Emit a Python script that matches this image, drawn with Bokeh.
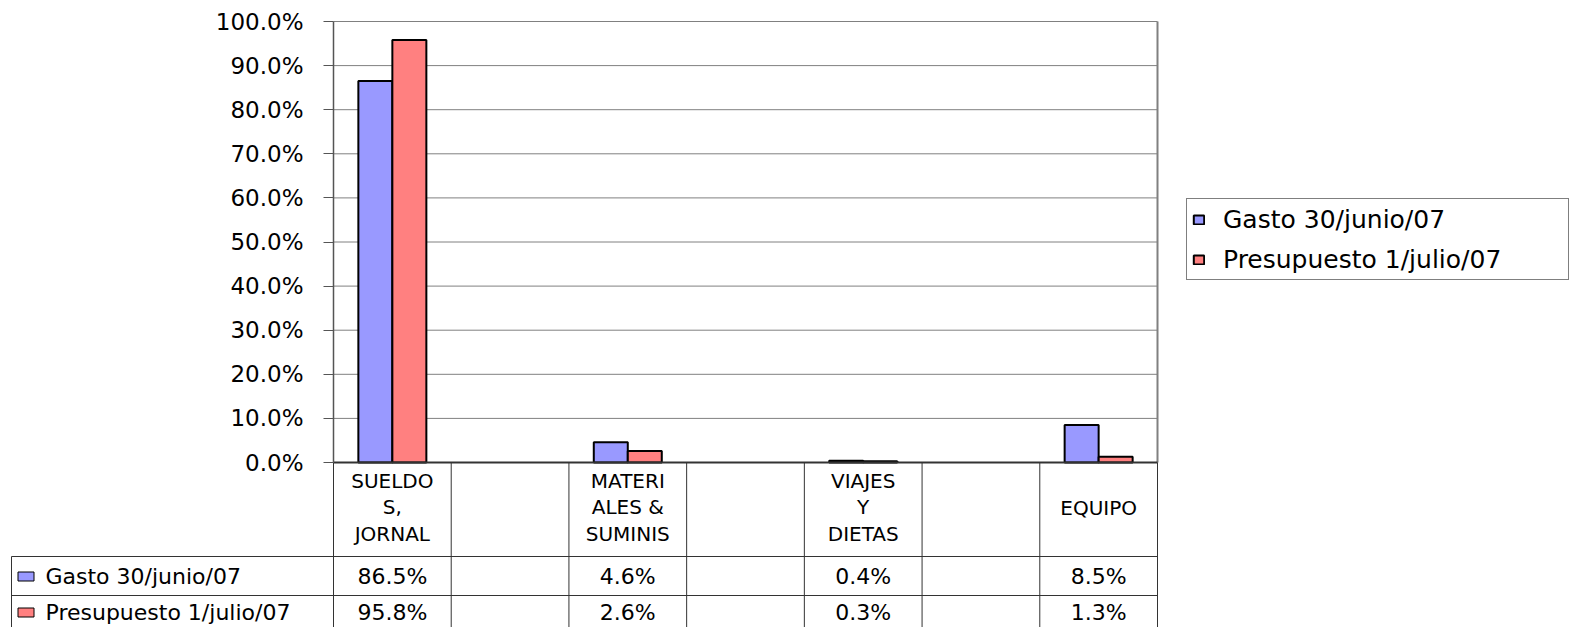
from bokeh.plotting import figure
from bokeh.models import (Range1d, FixedTicker, PrintfTickFormatter, Legend, LegendItem,
                          ColumnDataSource, LinearAxis)
from bokeh.embed import file_html
from bokeh.resources import INLINE
from bokeh.core.properties import value

# ---------------- data ----------------
categories = ["SUELDOS, JORNAL", "MATERIALES & SUMINIS", "VIAJES Y DIETAS", "EQUIPO"]
category_labels = ["SUELDO\nS,\nJORNAL", "MATERI\nALES &\nSUMINIS", "VIAJES\nY\nDIETAS", "EQUIPO"]
series_names = ["Gasto 30/junio/07", "Presupuesto 1/julio/07"]
gasto = [86.5, 4.6, 0.4, 8.5]
presupuesto = [95.8, 2.6, 0.3, 1.3]
y_ticks = [0, 10, 20, 30, 40, 50, 60, 70, 80, 90, 100]

# ---------------- style / layout ----------------
FONT = "DejaVu Sans"
BLUE = "#9999FF"
RED = "#FF8080"
GRID = "#808080"
TLINE = "#333333"
N_SLOTS = 7                      # categories with empty slots between them
FRAME_L, FRAME_R = 333, 1157     # plot-area edges (px)
TOP_PX, BASE_PX = 21, 462        # 100% and 0% (px)
COL_W = (FRAME_R - FRAME_L) / N_SLOTS
PX_PER_UNIT = (BASE_PX - TOP_PX) / 100.0
BAR_W = 34 / COL_W
W, H = 1579, 627


def xs(px):
    """canvas x pixel -> slot units"""
    return (px - FRAME_L) / COL_W


def ty(px):
    """canvas y pixel -> value units"""
    return -(px - BASE_PX) / PX_PER_UNIT


slot_centers = [2 * i + 0.5 for i in range(len(categories))]

src = ColumnDataSource(dict(
    xg=[c - BAR_W / 2 for c in slot_centers],
    xp=[c + BAR_W / 2 for c in slot_centers],
    gasto=gasto, presupuesto=presupuesto,
))

p = figure(width=W, height=H,
           x_range=Range1d(xs(0), xs(W)),
           y_range=Range1d(ty(H), ty(0)),
           x_axis_location=None, y_axis_location=None,
           output_backend="svg", toolbar_location=None,
           min_border_left=0, min_border_right=0, min_border_top=0, min_border_bottom=0)
p.background_fill_color = "white"
p.border_fill_color = "white"
p.outline_line_color = None
p.grid.visible = False

# y axis at the left edge of the plot area
yax = LinearAxis(fixed_location=0, bounds=(0, 100), ticker=FixedTicker(ticks=y_ticks),
                 formatter=PrintfTickFormatter(format="%.1f%%"))
yax.major_label_text_font = FONT
yax.major_label_text_font_size = "23px"
yax.major_label_text_color = "black"
yax.major_tick_out = 10
yax.major_tick_in = 0
yax.minor_tick_line_color = None
yax.major_label_standoff = 20
yax.axis_line_color = "#555555"
yax.axis_line_width = 1.5
yax.major_tick_line_color = "#555555"
p.add_layout(yax, "left")

# horizontal gridlines within the plot area
grid_ticks = [t for t in y_ticks if t > 0]
p.segment(x0=[0] * len(grid_ticks), y0=grid_ticks, x1=[N_SLOTS] * len(grid_ticks),
          y1=grid_ticks, line_color=GRID, line_width=1)
# right border of the plot area
p.segment(x0=[N_SLOTS], y0=[0], x1=[N_SLOTS], y1=[100], line_color=GRID, line_width=2)

r1 = p.vbar(x="xg", top="gasto", width=BAR_W, bottom=0, source=src,
            fill_color=BLUE, line_color="black", line_width=2)
r2 = p.vbar(x="xp", top="presupuesto", width=BAR_W, bottom=0, source=src,
            fill_color=RED, line_color="black", line_width=2)

# ---------------- data table below ----------------
HDR_B, ROW1_B, BOTTOM = ty(556), ty(595), ty(H + 10)
left_border = xs(11)

p.segment(x0=list(range(1, N_SLOTS + 1)), y0=[0] * N_SLOTS,
          x1=list(range(1, N_SLOTS + 1)), y1=[BOTTOM] * N_SLOTS,
          line_color=TLINE, line_width=1)
p.segment(x0=[0, left_border], y0=[0, HDR_B], x1=[0, left_border], y1=[BOTTOM, BOTTOM],
          line_color=TLINE, line_width=1)
p.segment(x0=[left_border, left_border], y0=[HDR_B, ROW1_B],
          x1=[N_SLOTS, N_SLOTS], y1=[HDR_B, ROW1_B], line_color=TLINE, line_width=1)
# baseline / table top
p.segment(x0=[0], y0=[0], x1=[N_SLOTS], y1=[0], line_color=TLINE, line_width=2)

# header labels
p.text(x=slot_centers, y=[ty(507)] * len(categories), text=category_labels,
       text_font=value(FONT), text_font_size=value("20px"), text_align="center",
       text_baseline="middle", text_line_height=1.1, text_color="black")
# values
p.text(x=slot_centers, y=[ty(576)] * len(gasto), text=[f"{v:.1f}%" for v in gasto],
       text_font=value(FONT), text_font_size=value("22px"), text_align="center",
       text_baseline="middle", text_color="black")
p.text(x=slot_centers, y=[ty(612)] * len(presupuesto),
       text=[f"{v:.1f}%" for v in presupuesto],
       text_font=value(FONT), text_font_size=value("22px"), text_align="center",
       text_baseline="middle", text_color="black")
# row legend keys and names
p.rect(x=[xs(25.5)] * 2, y=[ty(576), ty(612)], width=16, height=9, width_units="screen",
       height_units="screen", fill_color=[BLUE, RED], line_color="black", line_width=1)
p.text(x=[xs(45)] * 2, y=[ty(576), ty(612)], text=series_names,
       text_font=value(FONT), text_font_size=value("22px"), text_align="left",
       text_baseline="middle", text_color="black")

# ---------------- legend (right of plot area) ----------------
legend = Legend(items=[LegendItem(label=series_names[0], renderers=[r1]),
                       LegendItem(label=series_names[1], renderers=[r2])],
                location=(1186, H - 280), padding=5, spacing=10,
                glyph_width=13, glyph_height=11, label_standoff=18,
                label_text_font=FONT, label_text_font_size="25px",
                label_text_color="black",
                label_height=30, label_width=340,
                border_line_color="black", border_line_width=1,
                background_fill_color="white", background_fill_alpha=1.0)
p.add_layout(legend, "center")

open("out.html", "w").write(file_html(p, INLINE))
